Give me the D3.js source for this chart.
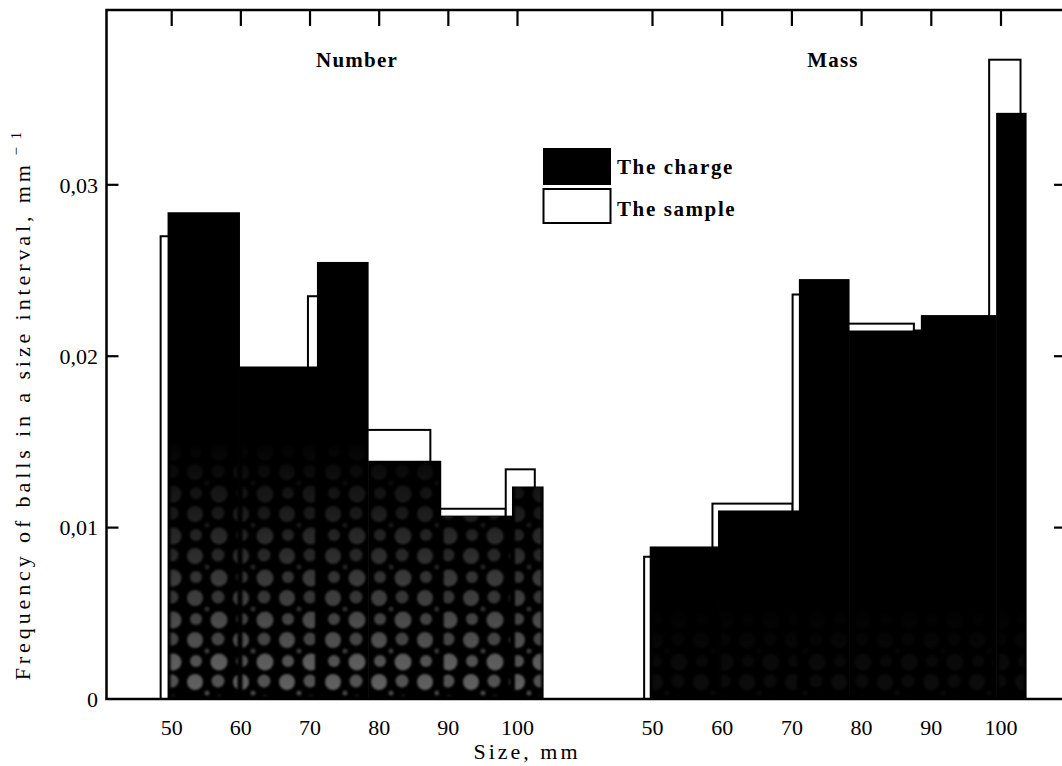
<!DOCTYPE html>
<html>
<head>
<meta charset="utf-8">
<script src="https://cdnjs.cloudflare.com/ajax/libs/d3/7.8.5/d3.min.js"></script>
<style>
	body { margin: 0; background: #fff; }
	svg text { font-family: "Liberation Serif", "DejaVu Serif", serif; fill: #000; }
</style>
</head>
<body>
<div id="chart"></div>
<script>
const dest		= '#chart';

// size interval edges (mm) and frequency (mm^-1)
const numberChargeEdges	= [49.4, 59.8, 71.0, 78.4, 88.9, 99.2, 103.7];
const numberCharge		= [0.0284, 0.0194, 0.0255, 0.0139, 0.0107, 0.0124];
const numberSampleEdges	= [48.4, 58.8, 69.7, 77.4, 87.4, 98.3, 102.5];
const numberSample		= [0.0270, 0.0190, 0.0235, 0.0157, 0.0111, 0.0134];

const massChargeEdges	= [49.6, 59.4, 71.0, 78.2, 88.5, 99.3, 103.6];
const massCharge		= [0.0089, 0.0110, 0.0245, 0.0215, 0.0224, 0.0342];
const massSampleEdges	= [48.8, 58.6, 70.1, 77.4, 87.5, 98.3, 102.8];
const massSample		= [0.0083, 0.0114, 0.0236, 0.0219, 0.0215, 0.0373];

const sizeTicks		= [50, 60, 70, 80, 90, 100];
const freqTicks		= [0, 0.01, 0.02, 0.03];
const panelTitles	= ['Number', 'Mass'];
const legendLabels	= ['The charge', 'The sample'];

const width		= 1062;
const height	= 766;
const frame		= { left: 106.5, top: 10, right: 1063, bottom: 699 };

function toBins(edges, values) {
	return values.map((v, i) => ({ x0: edges[i], x1: edges[i + 1], v: v }));
}

function fmtFreq(v) {
	return v === 0 ? '0' : d3.format('.2f')(v).replace('.', ',');
}

let svg = d3.select(dest).append('svg')
	.attr('width', width)
	.attr('height', height);

let y		= d3.scaleLinear().domain([0, 0.0402]).range([frame.bottom, frame.top]);
let xNum	= d3.scaleLinear().domain([50, 100]).range([171.7, 517.5]);
let xMass	= d3.scaleLinear().domain([50, 100]).range([652.5, 1001]);

// scanned halftone look of the filled bars
let defs = svg.append('defs');
let pat = defs.append('pattern')
	.attr('id', 'mottle')
	.attr('patternUnits', 'userSpaceOnUse')
	.attr('width', 46).attr('height', 42);
[[11, 10, 8, '#8c8c8c'], [34, 9, 6.5, '#7a7a7a'], [12, 31, 6, '#858585'], [35, 32, 8.5, '#959595'], [23, 21, 2.5, '#666']]
	.forEach(([cx, cy, r, c]) => pat.append('circle').attr('cx', cx).attr('cy', cy).attr('r', r).attr('fill', c));

defs.append('filter').attr('id', 'soft')
	.append('feGaussianBlur').attr('stdDeviation', 1.3);

[['fadeNum', 440, 0.72], ['fadeMass', 600, 0.1]].forEach(([id, y0, op]) => {
	let g = defs.append('linearGradient')
		.attr('id', id + '-g')
		.attr('gradientUnits', 'userSpaceOnUse')
		.attr('x1', 0).attr('x2', 0).attr('y1', y0).attr('y2', frame.bottom);
	g.append('stop').attr('offset', 0).attr('stop-color', '#fff').attr('stop-opacity', 0);
	g.append('stop').attr('offset', 1).attr('stop-color', '#fff').attr('stop-opacity', op);
	defs.append('mask').attr('id', id)
		.attr('maskUnits', 'userSpaceOnUse')
		.attr('x', 0).attr('y', 0).attr('width', width).attr('height', height)
		.append('rect')
			.attr('width', width).attr('height', height)
			.attr('fill', 'url(#' + id + '-g)');
});

function drawPanel(x, sample, charge, fade) {
	let g = svg.append('g');

	g.selectAll('rect.sample')
		.data(sample)
		.enter().append('rect')
			.attr('class', 'sample')
			.attr('x', (d) => x(d.x0))
			.attr('width', (d) => x(d.x1) - x(d.x0))
			.attr('y', (d) => y(d.v))
			.attr('height', (d) => y(0) - y(d.v))
			.attr('fill', '#fff')
			.attr('stroke', '#000')
			.attr('stroke-width', 2);

	g.selectAll('rect.charge')
		.data(charge)
		.enter().append('rect')
			.attr('class', 'charge')
			.attr('x', (d) => x(d.x0))
			.attr('width', (d) => x(d.x1) - x(d.x0) + 0.5)
			.attr('y', (d) => y(d.v))
			.attr('height', (d) => y(0) - y(d.v))
			.attr('fill', '#000');

	g.append('g')
		.attr('mask', 'url(#' + fade + ')')
		.append('g')
		.attr('filter', 'url(#soft)')
		.selectAll('rect')
		.data(charge)
		.enter().append('rect')
			.attr('x', (d) => x(d.x0) + 3)
			.attr('width', (d) => x(d.x1) - x(d.x0) - 5)
			.attr('y', (d) => y(d.v))
			.attr('height', (d) => y(0) - y(d.v) - 3)
			.attr('fill', 'url(#mottle)');

	// ticks along the top, labels below the base line
	g.selectAll('line.top')
		.data(sizeTicks)
		.enter().append('line')
			.attr('x1', (d) => x(d)).attr('x2', (d) => x(d))
			.attr('y1', frame.top).attr('y2', frame.top + 16)
			.attr('stroke', '#000').attr('stroke-width', 2.2);

	g.selectAll('text.size')
		.data(sizeTicks)
		.enter().append('text')
			.attr('x', (d) => x(d))
			.attr('y', 735)
			.attr('text-anchor', 'middle')
			.style('font-size', '22px')
			.text((d) => d);
}

drawPanel(xNum, toBins(numberSampleEdges, numberSample), toBins(numberChargeEdges, numberCharge), 'fadeNum');
drawPanel(xMass, toBins(massSampleEdges, massSample), toBins(massChargeEdges, massCharge), 'fadeMass');

// frame
svg.append('path')
	.attr('d', 'M' + frame.right + ',' + frame.top + 'H' + frame.left + 'V' + frame.bottom + 'H' + frame.right)
	.attr('fill', 'none')
	.attr('stroke', '#000')
	.attr('stroke-width', 2.5);

// frequency ticks, both sides
svg.selectAll('line.yl')
	.data(freqTicks.slice(1))
	.enter().append('line')
		.attr('x1', frame.left).attr('x2', frame.left + 12)
		.attr('y1', (d) => y(d)).attr('y2', (d) => y(d))
		.attr('stroke', '#000').attr('stroke-width', 2.2);

svg.selectAll('line.yr')
	.data(freqTicks.slice(1))
	.enter().append('line')
		.attr('x1', frame.right - 9).attr('x2', frame.right)
		.attr('y1', (d) => y(d)).attr('y2', (d) => y(d))
		.attr('stroke', '#000').attr('stroke-width', 2.2);

svg.selectAll('text.freq')
	.data(freqTicks)
	.enter().append('text')
		.attr('x', 98)
		.attr('y', (d) => y(d))
		.attr('dy', '0.35em')
		.attr('text-anchor', 'end')
		.style('font-size', '22px')
		.text(fmtFreq);

// panel titles
svg.selectAll('text.title')
	.data(panelTitles)
	.enter().append('text')
		.attr('x', (d, i) => i === 0 ? 357 : 833)
		.attr('y', 67)
		.attr('text-anchor', 'middle')
		.style('font-size', '21px')
		.style('font-weight', 'bold')
		.style('letter-spacing', '1.2px')
		.text((d) => d);

// legend
let legend = svg.append('g');
legend.append('rect')
	.attr('x', 543).attr('y', 148).attr('width', 68).attr('height', 37)
	.attr('fill', '#000');
legend.append('rect')
	.attr('x', 543.5).attr('y', 189).attr('width', 67).attr('height', 34)
	.attr('fill', '#fff').attr('stroke', '#000').attr('stroke-width', 2);
legend.selectAll('text')
	.data(legendLabels)
	.enter().append('text')
		.attr('x', 617)
		.attr('y', (d, i) => 174 + i * 42)
		.style('font-size', '21px')
		.style('font-weight', 'bold')
		.style('letter-spacing', '1.6px')
		.text((d) => d);

// axis titles
svg.append('text')
	.attr('x', 527)
	.attr('y', 759)
	.attr('text-anchor', 'middle')
	.style('font-size', '22px')
	.style('letter-spacing', '3px')
	.text('Size, mm');

let yTitle = svg.append('text')
	.attr('transform', 'translate(30,405) rotate(-90)')
	.attr('text-anchor', 'middle')
	.style('font-size', '22px')
	.style('letter-spacing', '3.9px')
	.text('Frequency of balls in a size interval, mm');
yTitle.append('tspan')
	.attr('dy', -9)
	.style('font-size', '15px')
	.style('letter-spacing', '2px')
	.text(' \u2212 1');
</script>
</body>
</html>
